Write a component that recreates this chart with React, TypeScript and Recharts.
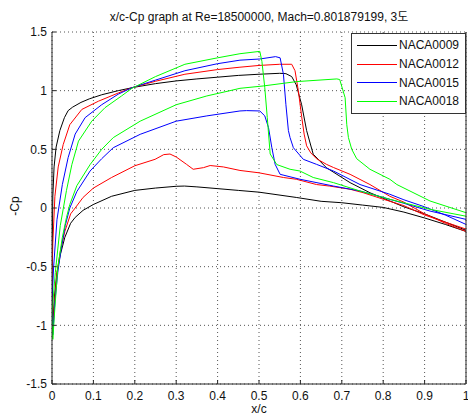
import React from 'react';
import { LineChart, Line, XAxis, YAxis, CartesianGrid } from 'recharts';

const xTicks = [0, 0.1, 0.2, 0.3, 0.4, 0.5, 0.6, 0.7, 0.8, 0.9, 1];
const yTicks = [-1.5, -1, -0.5, 0, 0.5, 1, 1.5];
const xTickLabels = ['0', '0.1', '0.2', '0.3', '0.4', '0.5', '0.6', '0.7', '0.8', '0.9', '1'];
const yTickLabels = ['-1.5', '-1', '-0.5', '0', '0.5', '1', '1.5'];

const seriesNames = ['NACA0009', 'NACA0012', 'NACA0015', 'NACA0018'];
const seriesColors = ['#000000', '#ff0000', '#0000ff', '#00ff00'];

// Each airfoil: upper surface from trailing edge to leading edge, then lower surface back to trailing edge
const naca0009X = [1.0, 0.95, 0.9, 0.85, 0.816, 0.768, 0.72, 0.663, 0.631, 0.615, 0.603, 0.59, 0.579, 0.565, 0.55, 0.5, 0.45, 0.4, 0.35, 0.3, 0.25, 0.2, 0.16, 0.12, 0.09, 0.07, 0.05, 0.039, 0.03, 0.019, 0.01, 0.005, 0.002, 0.0,
  0.002, 0.006, 0.012, 0.02, 0.031, 0.045, 0.056, 0.075, 0.1, 0.144, 0.2, 0.25, 0.3, 0.32, 0.35, 0.4, 0.45, 0.5, 0.59, 0.65, 0.7, 0.75, 0.8, 0.85, 0.9, 0.95, 1.0];
const naca0009Y = [-0.19, -0.12, -0.05, 0.01, 0.06, 0.13, 0.216, 0.343, 0.458, 0.66, 0.88, 1.05, 1.12, 1.145, 1.148, 1.14, 1.13, 1.115, 1.1, 1.083, 1.06, 1.03, 1.0, 0.965, 0.93, 0.9, 0.86, 0.83, 0.77, 0.66, 0.52, 0.35, 0.1, -0.5,
  -1.0, -0.75, -0.55, -0.4, -0.25, -0.13, -0.08, -0.02, 0.03, 0.1, 0.15, 0.17, 0.185, 0.187, 0.18, 0.165, 0.15, 0.135, 0.09, 0.057, 0.045, 0.025, 0.005, -0.035, -0.085, -0.14, -0.2];

const naca0012X = [1.0, 0.95, 0.9, 0.85, 0.816, 0.768, 0.72, 0.68, 0.663, 0.639, 0.625, 0.615, 0.609, 0.603, 0.595, 0.587, 0.579, 0.55, 0.5, 0.454, 0.4, 0.321, 0.25, 0.193, 0.16, 0.112, 0.072, 0.043, 0.027, 0.015, 0.007, 0.002, 0.0,
  0.002, 0.006, 0.012, 0.02, 0.031, 0.045, 0.056, 0.075, 0.1, 0.144, 0.2, 0.249, 0.27, 0.285, 0.3, 0.325, 0.341, 0.366, 0.382, 0.414, 0.454, 0.5, 0.559, 0.59, 0.639, 0.67, 0.72, 0.752, 0.8, 0.85, 0.9, 0.95, 1.0];
const naca0012Y = [-0.2, -0.13, -0.05, 0.05, 0.1, 0.2, 0.287, 0.345, 0.372, 0.42, 0.47, 0.53, 0.63, 0.78, 1.0, 1.17, 1.225, 1.225, 1.215, 1.2, 1.18, 1.14, 1.08, 1.025, 0.98, 0.91, 0.84, 0.71, 0.54, 0.35, 0.1, -0.3, -0.6,
  -1.05, -0.8, -0.55, -0.37, -0.2, -0.05, 0.0, 0.09, 0.17, 0.26, 0.36, 0.415, 0.455, 0.46, 0.435, 0.372, 0.33, 0.344, 0.362, 0.35, 0.32, 0.3, 0.26, 0.245, 0.2, 0.187, 0.16, 0.13, 0.075, 0.02, -0.06, -0.12, -0.18];

const naca0015X = [1.0, 0.95, 0.9, 0.85, 0.816, 0.744, 0.68, 0.639, 0.607, 0.583, 0.575, 0.571, 0.565, 0.559, 0.551, 0.54, 0.502, 0.454, 0.4, 0.321, 0.25, 0.193, 0.16, 0.12, 0.08, 0.056, 0.039, 0.025, 0.012, 0.004, 0.0,
  0.002, 0.007, 0.014, 0.022, 0.032, 0.043, 0.06, 0.092, 0.12, 0.148, 0.213, 0.3, 0.374, 0.454, 0.47, 0.502, 0.514, 0.523, 0.531, 0.539, 0.551, 0.599, 0.68, 0.744, 0.8, 0.85, 0.913, 1.0];
const naca0015Y = [-0.14, -0.06, 0.01, 0.07, 0.117, 0.2, 0.315, 0.372, 0.415, 0.514, 0.6, 0.66, 0.88, 1.14, 1.28, 1.29, 1.27, 1.26, 1.23, 1.17, 1.09, 1.025, 0.97, 0.88, 0.77, 0.63, 0.43, 0.2, -0.1, -0.5, -0.8,
  -1.08, -0.8, -0.55, -0.35, -0.15, 0.0, 0.14, 0.315, 0.42, 0.514, 0.628, 0.74, 0.785, 0.827, 0.83, 0.827, 0.785, 0.685, 0.514, 0.372, 0.287, 0.245, 0.187, 0.145, 0.09, 0.04, -0.026, -0.097];

const naca0018X = [1.0, 0.913, 0.816, 0.744, 0.68, 0.631, 0.599, 0.575, 0.543, 0.527, 0.52, 0.514, 0.507, 0.502, 0.454, 0.4, 0.321, 0.25, 0.193, 0.168, 0.128, 0.096, 0.064, 0.048, 0.035, 0.02, 0.008, 0.0,
  0.002, 0.007, 0.014, 0.025, 0.035, 0.043, 0.06, 0.092, 0.12, 0.148, 0.213, 0.3, 0.374, 0.43, 0.454, 0.51, 0.59, 0.688, 0.695, 0.708, 0.712, 0.716, 0.724, 0.736, 0.768, 0.816, 0.833, 0.913, 1.0];
const naca0018Y = [-0.07, -0.011, 0.074, 0.145, 0.216, 0.26, 0.315, 0.33, 0.37, 0.46, 0.77, 1.025, 1.25, 1.335, 1.315, 1.28, 1.225, 1.12, 1.02, 0.955, 0.855, 0.74, 0.57, 0.37, 0.15, -0.15, -0.55, -0.9,
  -1.12, -0.85, -0.51, -0.25, -0.08, 0.03, 0.19, 0.37, 0.5, 0.6, 0.74, 0.88, 0.955, 1.0, 1.02, 1.04, 1.077, 1.1, 1.095, 0.94, 0.71, 0.6, 0.5, 0.42, 0.33, 0.245, 0.2, 0.06, -0.04];

const seriesX = [naca0009X, naca0012X, naca0015X, naca0018X];
const seriesY = [naca0009Y, naca0012Y, naca0015Y, naca0018Y];

const seriesData = seriesNames.map((name, i) =>
  seriesX[i].map((x, j) => ({ x, y: seriesY[i][j] }))
);

const FONT = '"Liberation Sans", Arial, "Noto Sans CJK KR", sans-serif';
const TEXT = '#111111';
const AXIS = '#262626';

const fmtX = (v: number) => xTickLabels[xTicks.indexOf(v)] ?? String(v);
const fmtY = (v: number) => yTickLabels[yTicks.indexOf(v)] ?? String(v);

export default function App() {
  return (
    <div
      style={{
        position: 'fixed',
        left: 0,
        top: 0,
        width: 468,
        height: 419,
        fontFamily: FONT,
        background: '#fff',
        overflow: 'hidden',
      }}
    >
      <LineChart width={468} height={419} margin={{ top: 32, right: 1, left: 0, bottom: 0 }}>
        <CartesianGrid stroke="#555" strokeDasharray="1 3" />
        <XAxis
          dataKey="x"
          type="number"
          domain={[0, 1]}
          ticks={xTicks}
          interval={0}
          tickFormatter={fmtX}
          height={35}
          tickSize={-4}
          tickMargin={11}
          axisLine={{ stroke: AXIS }}
          tickLine={{ stroke: AXIS }}
          tick={{ fill: TEXT, fontSize: 12, fontFamily: FONT }}
          allowDataOverflow
        />
        <XAxis
          xAxisId="top"
          orientation="top"
          dataKey="x"
          type="number"
          domain={[0, 1]}
          ticks={xTicks}
          interval={0}
          height={0}
          tickSize={-4}
          tick={false}
          axisLine={{ stroke: AXIS }}
          tickLine={{ stroke: AXIS }}
        />
        <YAxis
          type="number"
          domain={[-1.5, 1.5]}
          ticks={yTicks}
          interval={0}
          tickFormatter={fmtY}
          width={52}
          tickSize={-4}
          tickMargin={9}
          axisLine={{ stroke: AXIS }}
          tickLine={{ stroke: AXIS }}
          tick={{ fill: TEXT, fontSize: 12, fontFamily: FONT }}
          allowDataOverflow
        />
        <YAxis
          yAxisId="right"
          orientation="right"
          type="number"
          domain={[-1.5, 1.5]}
          ticks={yTicks}
          interval={0}
          width={1}
          tickSize={-4}
          tick={false}
          axisLine={{ stroke: AXIS }}
          tickLine={{ stroke: AXIS }}
        />
        {seriesNames.map((n, i) => (
          <Line
            key={n}
            name={n}
            data={seriesData[i]}
            dataKey="y"
            type="linear"
            stroke={seriesColors[i]}
            strokeWidth={1}
            dot={false}
            activeDot={false}
            isAnimationActive={false}
          />
        ))}
      </LineChart>
      <div
        style={{
          position: 'absolute',
          left: 52,
          width: 414,
          top: 10,
          textAlign: 'center',
          fontSize: 12,
          color: TEXT,
          lineHeight: '14px',
          whiteSpace: 'nowrap',
        }}
      >
        x/c-Cp graph at Re=18500000, Mach=0.801879199, 3도
      </div>
      <div
        style={{
          position: 'absolute',
          left: 3,
          top: 199,
          width: 24,
          height: 14,
          fontSize: 12,
          color: TEXT,
          transform: 'rotate(-90deg)',
          lineHeight: '14px',
          whiteSpace: 'nowrap',
          textAlign: 'center',
        }}
      >
        -Cp
      </div>
      <div
        style={{
          position: 'absolute',
          left: 52,
          width: 414,
          top: 404,
          textAlign: 'center',
          fontSize: 12,
          color: TEXT,
          lineHeight: '10px',
        }}
      >
        x/c
      </div>
      <div
        style={{
          position: 'absolute',
          left: 351,
          top: 33,
          width: 113,
          height: 77,
          border: '1px solid #333',
          background: '#fff',
          fontSize: 12,
          color: TEXT,
          paddingTop: 2,
          boxSizing: 'content-box',
        }}
      >
        {seriesNames.map((n, i) => (
          <div key={n} style={{ display: 'flex', alignItems: 'center', height: 18.7 }}>
            <div style={{ marginLeft: 5, width: 40, height: 0, borderTop: `1px solid ${seriesColors[i]}` }} />
            <span style={{ marginLeft: 2, lineHeight: '14px' }}>{n}</span>
          </div>
        ))}
      </div>
    </div>
  );
}
